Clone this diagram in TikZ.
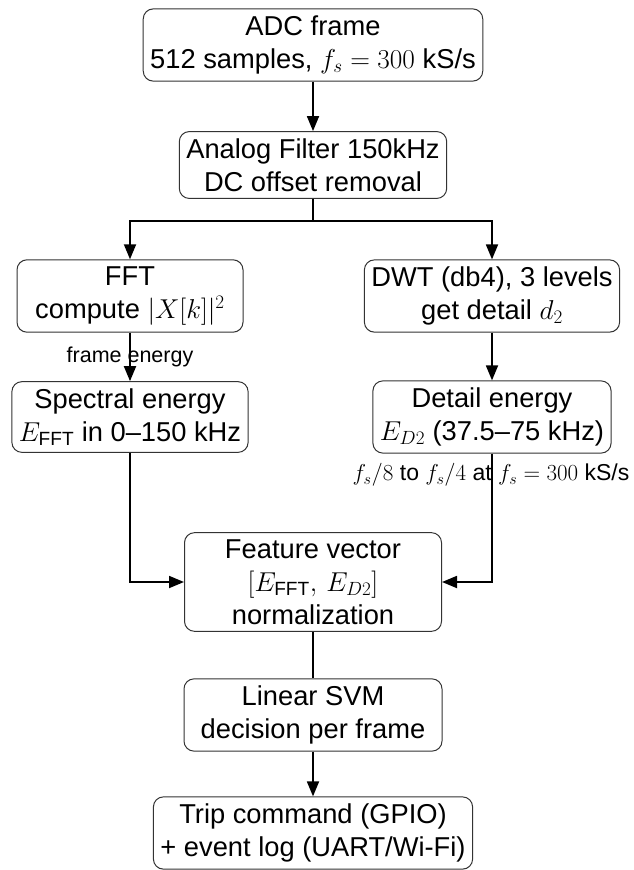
\RequirePackage{fix-cm}
\documentclass[tikz,border=0pt]{standalone}
\usepackage{amsmath}
\usepackage[no-math]{fontspec}
\setmainfont{Liberation Sans}
\usetikzlibrary{arrows.meta}
\newcommand{\boxfont}{\fontsize{27.3}{32.8}\selectfont}
\newcommand{\labfont}{\fontsize{21.5}{26}\selectfont}
\newcommand{\lablfont}{\fontsize{23}{27}\selectfont}
\tikzset{
  box/.style={draw=black!80, line width=1pt, rounded corners=10pt, align=center,
    inner xsep=7pt, inner ysep=7pt, font=\boxfont},
  lab/.style={inner sep=1pt, font=\labfont},
  conn/.style={line width=1.8pt},
  arr/.style={conn, -{Triangle[length=15pt,width=12pt]}}
}
\begin{document}
\begin{tikzpicture}[x=1pt,y=-1pt]
\useasboundingbox (0,0) rectangle (634,870);
\node[box] (adc) at (313,45) {ADC frame\\512 samples, $f_s = 300$ kS/s};
\node[box] (filt) at (313,165) {Analog Filter 150kHz\\DC offset removal};
\node[box, minimum width=226pt] (fft) at (130,296) {FFT\\compute $|X[k]|^2$};
\node[box] (dwt) at (492,296) {DWT (db4), 3 levels\\get detail $d_2$};
\node[box] (spec) at (130,417) {Spectral energy\\$E_{\text{FFT}}$ in 0--150 kHz};
\node[box] (det) at (492,417) {Detail energy\\$E_{D2}$ (37.5--75 kHz)};
\node[box, minimum width=257pt] (feat) at (313,582) {Feature vector\\$[E_{\text{FFT}},\, E_{D2}]$\\normalization};
\node[box, minimum width=258pt] (svm) at (313,715) {Linear SVM\\decision per frame};
\node[box] (trip) at (313,833) {Trip command (GPIO)\\+ event log (UART/Wi-Fi)};
\coordinate (bj) at (313,221);
\draw[arr] (adc) -- (filt);
\draw[arr] (filt.south) -- (bj) -| (fft.north);
\draw[arr] (bj) -| (dwt.north);
\draw[arr] (fft) -- node[lab] (fe) {frame energy} (spec);
\draw[arr] (dwt) -- (det);
\draw[arr] (spec.south) |- (feat.west);
\draw[arr] (det.south) |- (feat.east);
\node[lab, font=\lablfont] (fsl) at (491,475) {$f_s/8$ to $f_s/4$ at $f_s = 300$ kS/s};
\draw[conn] (feat) -- (svm);
\draw[arr] (svm) -- (trip);
\end{tikzpicture}
\end{document}
